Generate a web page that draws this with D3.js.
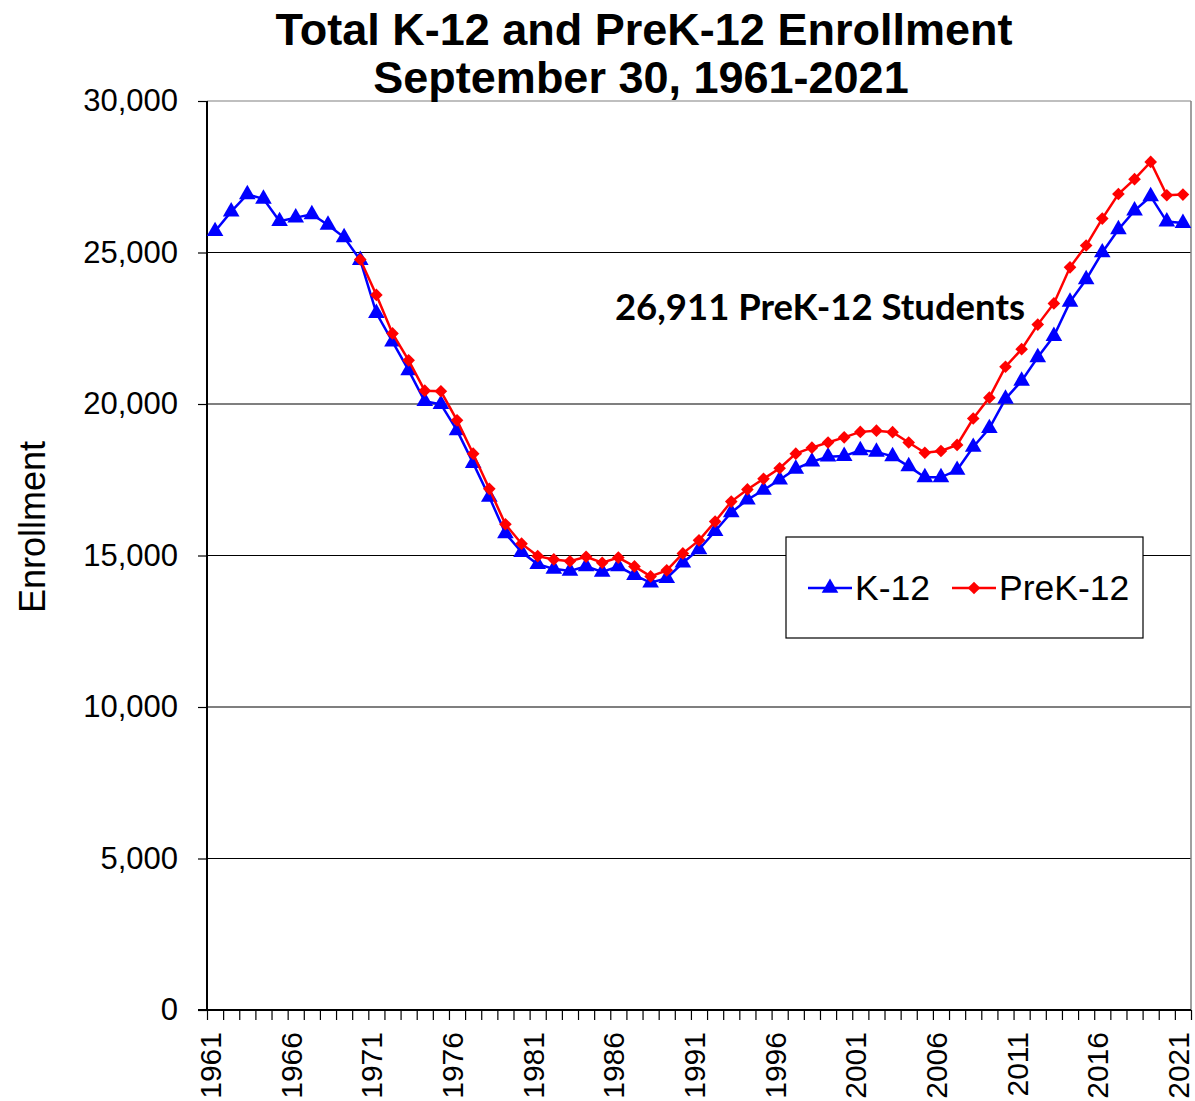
<!DOCTYPE html>
<html lang="en">
<head>
    <meta charset="UTF-8">
    <title>Total K-12 and PreK-12 Enrollment</title>
    <style>
        body { margin: 0; background: #fff; }
        text { font-family: "Liberation Sans", Arial, sans-serif; fill: #000; }
        .domain { display: none; }
    </style>
</head>
<body>
    <div id="chart"></div>
    <script src="https://cdnjs.cloudflare.com/ajax/libs/d3/7.8.5/d3.min.js"></script>
    <script>
        // categories (school years, Sept 30 counts)
        const years = [1961, 1962, 1963, 1964, 1965, 1966, 1967, 1968, 1969, 1970,
            1971, 1972, 1973, 1974, 1975, 1976, 1977, 1978, 1979, 1980,
            1981, 1982, 1983, 1984, 1985, 1986, 1987, 1988, 1989, 1990,
            1991, 1992, 1993, 1994, 1995, 1996, 1997, 1998, 1999, 2000,
            2001, 2002, 2003, 2004, 2005, 2006, 2007, 2008, 2009, 2010,
            2011, 2012, 2013, 2014, 2015, 2016, 2017, 2018, 2019, 2020, 2021];

        const k12 = [25700, 26350, 26920, 26770, 26030, 26150, 26260, 25910, 25500, 24750,
            23000, 22060, 21110, 20090, 19990, 19130, 18050, 16930, 15730, 15110,
            14710, 14560, 14490, 14640, 14460, 14640, 14350, 14100, 14250, 14760,
            15200, 15800, 16420, 16840, 17160, 17500, 17860, 18100, 18260, 18280,
            18470, 18420, 18270, 17940, 17580, 17580, 17820, 18580, 19200, 20170,
            20760, 21540, 22240, 23370, 24110, 25000, 25760, 26380, 26850, 26020, 25970];

        // PreK-12 series begins in 1970
        const prek12 = [null, null, null, null, null, null, null, null, null, 24770,
            23600, 22330, 21440, 20440, 20420, 19460, 18360, 17200, 16030, 15390,
            14980, 14870, 14810, 14960, 14760, 14930, 14640, 14310, 14510, 15070,
            15500, 16120, 16780, 17180, 17530, 17880, 18360, 18560, 18730, 18900,
            19080, 19120, 19070, 18730, 18390, 18450, 18650, 19520, 20210, 21230,
            21810, 22620, 23320, 24510, 25230, 26120, 26930, 27420, 27990, 26890, 26911];

        const yTicks = [0, 5000, 10000, 15000, 20000, 25000, 30000];
        const xLabelYears = [1961, 1966, 1971, 1976, 1981, 1986, 1991, 1996, 2001, 2006, 2011, 2016, 2021];

        const width = 1195, height = 1101;
        const plot = { left: 207, right: 1191, top: 101, bottom: 1010 };

        const svg = d3.select("#chart").append("svg")
            .attr("width", width)
            .attr("height", height);

        // categories are spaced evenly, boundaries half a year either side
        const x = d3.scaleLinear()
            .domain([years[0] - 0.5, years[years.length - 1] + 0.5])
            .range([plot.left, plot.right]);

        const y = d3.scaleLinear()
            .domain([0, 30000])
            .range([plot.bottom, plot.top]);

        // gridlines
        svg.append("g")
            .selectAll("line")
            .data(yTicks.filter(d => d > 0))
            .join("line")
            .attr("x1", plot.left)
            .attr("x2", plot.right)
            .attr("y1", d => y(d))
            .attr("y2", d => y(d))
            .attr("stroke", d => d === 30000 ? "#808080" : "#000")
            .attr("stroke-width", 1.2);

        // right border of plot area
        svg.append("line")
            .attr("x1", plot.right).attr("x2", plot.right)
            .attr("y1", plot.top).attr("y2", plot.bottom)
            .attr("stroke", "#808080")
            .attr("stroke-width", 1.5);

        // y axis
        const yAxis = svg.append("g")
            .attr("transform", `translate(${plot.left},0)`)
            .call(d3.axisLeft(y).tickValues(yTicks).tickSize(9).tickPadding(20)
                .tickFormat(d3.format(",")));
        yAxis.selectAll("line").attr("stroke", "#000").attr("stroke-width", 1.2);
        yAxis.selectAll("text").style("font-size", "31px");
        yAxis.append("line")
            .attr("y1", plot.top).attr("y2", plot.bottom)
            .attr("stroke", "#000").attr("stroke-width", 2);

        // x axis: ticks at category boundaries
        const edges = years.map(d => d - 0.5).concat([years[years.length - 1] + 0.5]);
        const xAxis = svg.append("g")
            .attr("transform", `translate(0,${plot.bottom})`)
            .call(d3.axisBottom(x).tickValues(edges).tickSize(10).tickFormat(""));
        xAxis.selectAll("line").attr("stroke", "#000").attr("stroke-width", 1.2);
        xAxis.append("line")
            .attr("x1", plot.left - 9).attr("x2", plot.right)
            .attr("stroke", "#000").attr("stroke-width", 2);

        const xLabels = svg.append("g")
            .attr("transform", `translate(0,${plot.bottom})`)
            .call(d3.axisBottom(x).tickValues(xLabelYears).tickSize(0).tickFormat(d3.format("d")));
        xLabels.selectAll("text")
            .attr("transform", "rotate(-90)")
            .attr("x", -22)
            .attr("y", -5)
            .attr("dy", "0.35em")
            .attr("text-anchor", "end")
            .style("font-size", "30px");

        // series lines
        const line = d3.line()
            .defined(d => d.v !== null)
            .x(d => x(d.year))
            .y(d => y(d.v));

        const k12Data = years.map((yr, i) => ({ year: yr, v: k12[i] }));
        const preData = years.map((yr, i) => ({ year: yr, v: prek12[i] }));

        const triangle = d3.symbol().type(d3.symbolTriangle).size(120);
        const diamond = d3.symbol().type(d3.symbolSquare).size(80);

        svg.append("path")
            .datum(k12Data)
            .attr("fill", "none")
            .attr("stroke", "#0000ff")
            .attr("stroke-width", 2.5)
            .attr("d", line);

        svg.append("g")
            .selectAll("path")
            .data(k12Data)
            .join("path")
            .attr("transform", d => `translate(${x(d.year)},${y(d.v)})`)
            .attr("d", triangle)
            .attr("fill", "#0000ff");

        svg.append("path")
            .datum(preData)
            .attr("fill", "none")
            .attr("stroke", "#ff0000")
            .attr("stroke-width", 2.5)
            .attr("d", line);

        svg.append("g")
            .selectAll("path")
            .data(preData.filter(d => d.v !== null))
            .join("path")
            .attr("transform", d => `translate(${x(d.year)},${y(d.v)}) rotate(45)`)
            .attr("d", diamond)
            .attr("fill", "#ff0000");

        // title
        svg.append("text")
            .attr("x", 644).attr("y", 45)
            .attr("text-anchor", "middle")
            .style("font-size", "45px").style("font-weight", "bold")
            .text("Total K-12 and PreK-12 Enrollment");
        svg.append("text")
            .attr("x", 641).attr("y", 93)
            .attr("text-anchor", "middle")
            .style("font-size", "45px").style("font-weight", "bold")
            .text("September 30, 1961-2021");

        // y axis title
        svg.append("text")
            .attr("transform", "translate(45,527) rotate(-90)")
            .attr("text-anchor", "middle")
            .style("font-size", "36px")
            .text("Enrollment");

        // annotation
        svg.append("text")
            .attr("x", 820).attr("y", 320)
            .attr("text-anchor", "middle")
            .style("font-family", "Lato, 'Open Sans', sans-serif")
            .style("font-size", "36.5px").style("font-weight", "bold")
            .text("26,911 PreK-12 Students");

        // legend
        const legend = svg.append("g").attr("transform", "translate(786,537)");
        legend.append("rect")
            .attr("width", 357).attr("height", 101)
            .attr("fill", "#fff").attr("stroke", "#000").attr("stroke-width", 1.2);

        const legendItems = [
            { label: "K-12", color: "#0000ff", symbol: triangle, rot: 0, x: 22 },
            { label: "PreK-12", color: "#ff0000", symbol: diamond, rot: 45, x: 166 }
        ];
        const li = legend.selectAll("g.item")
            .data(legendItems)
            .join("g")
            .attr("class", "item")
            .attr("transform", d => `translate(${d.x},51)`);
        li.append("line")
            .attr("x1", 0).attr("x2", 44)
            .attr("stroke", d => d.color).attr("stroke-width", 2.5);
        li.append("path")
            .attr("transform", d => `translate(22,0) rotate(${d.rot})`)
            .attr("d", d => d.symbol())
            .attr("fill", d => d.color);
        li.append("text")
            .attr("x", 47).attr("dy", "0.35em")
            .style("font-size", "35.5px")
            .text(d => d.label);
    </script>
</body>
</html>
